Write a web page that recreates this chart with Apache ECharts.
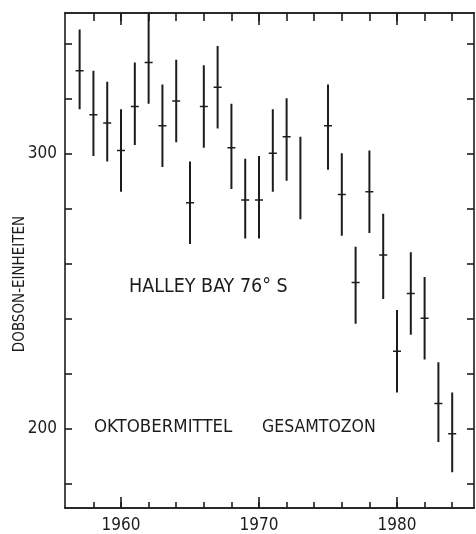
<!DOCTYPE html>
<html>
<head>
<meta charset="utf-8">
<script src="https://cdn.jsdelivr.net/npm/echarts@6/dist/echarts.min.js"></script>
<style>
html, body { margin: 0; background: #fff; }
#chart { width: 476px; height: 534px; }
</style>
</head>
<body>
<div id="chart"></div>
<script>
// Oktobermittel Gesamtozon, Halley Bay
const years = [1957, 1958, 1959, 1960, 1961, 1962, 1963, 1964, 1965, 1966, 1967, 1968, 1969, 1970,
               1971, 1972, 1973, 1975, 1976, 1977, 1978, 1979, 1980, 1981, 1982, 1983, 1984];
const means = [330, 314, 311, 301, 317, 333, 310, 319, 282, 317, 324, 302, 283, 283,
               300, 306, null, 310, 285, 253, 286, 263, 228, 249, 240, 209, 198];
const highs = [345, 330, 326, 316, 333, 351, 325, 334, 297, 332, 339, 318, 298, 299,
               316, 320, 306, 325, 300, 266, 301, 278, 243, 264, 255, 224, 213];
const lows  = [316, 299, 297, 286, 303, 318, 295, 304, 267, 302, 309, 287, 269, 269,
               286, 290, 276, 294, 270, 238, 271, 247, 213, 234, 225, 195, 184];

const minorYears = [1958, 1960, 1962, 1964, 1966, 1968, 1970, 1972, 1974, 1976, 1978, 1980, 1982, 1984];
const decadeYears = [1960, 1970, 1980];
const yTicks = [180, 200, 220, 240, 260, 280, 300, 320, 340];
const yLabels = [200, 300];

const ink = '#1c1c1c';
const xMin = 1955.94, xMax = 1985.58;
const yMin = 171, yMax = 351;
const labelFont = { color: ink, fontFamily: 'DejaVu Sans Condensed', fontSize: 17, formatter: v => String(v) };

const chart = echarts.init(document.getElementById('chart'));

const rows = years.map((y, i) => [y, lows[i], highs[i], means[i]]);

function xAx(pos, len, ticks, labels) {
    return {
        type: 'value', position: pos, min: xMin, max: xMax,
        axisLine: { show: true, lineStyle: { color: ink, width: 1.6 } },
        axisTick: { show: true, inside: true, length: len, customValues: ticks, lineStyle: { color: ink, width: 1.6 } },
        axisLabel: labels ? Object.assign({ customValues: labels, margin: 9 }, labelFont) : { show: false },
        splitLine: { show: false }
    };
}

function yAx(pos, labels) {
    return {
        type: 'value', position: pos, min: yMin, max: yMax,
        axisLine: { show: true, lineStyle: { color: ink, width: 1.6 } },
        axisTick: { show: true, inside: true, length: 7, customValues: yTicks, lineStyle: { color: ink, width: 1.6 } },
        axisLabel: labels ? Object.assign({ customValues: labels, margin: 8 }, labelFont) : { show: false },
        splitLine: { show: false }
    };
}

chart.setOption({
    backgroundColor: '#fff',
    animation: false,
    grid: { left: 65, right: 2, top: 13, bottom: 26 },
    xAxis: [
        xAx('bottom', 6, minorYears, decadeYears),
        xAx('bottom', 11, decadeYears, null),
        xAx('top', 8, minorYears, null),
        xAx('top', 12, decadeYears, null)
    ],
    yAxis: [
        yAx('left', yLabels),
        yAx('right', null)
    ],
    graphic: [
        {
            type: 'text', x: 20, y: 284, rotation: Math.PI / 2,
            style: { text: 'DOBSON-EINHEITEN', fill: ink, font: '15px "DejaVu Sans Condensed"', align: 'center', verticalAlign: 'middle' }
        },
        {
            type: 'text', x: 129, y: 287,
            style: { text: 'HALLEY BAY 76° S', fill: ink, font: '19.5px "DejaVu Sans Condensed"', align: 'left', verticalAlign: 'middle' }
        },
        {
            type: 'text', x: 94, y: 427,
            style: { text: 'OKTOBERMITTEL', fill: ink, font: '18.5px "DejaVu Sans Condensed"', align: 'left', verticalAlign: 'middle' }
        },
        {
            type: 'text', x: 262, y: 427,
            style: { text: 'GESAMTOZON', fill: ink, font: '17.5px "DejaVu Sans Condensed"', align: 'left', verticalAlign: 'middle' }
        }
    ],
    series: [{
        type: 'custom',
        xAxisIndex: 0,
        yAxisIndex: 0,
        clip: false,
        encode: { x: 0, y: [1, 2] },
        data: rows,
        renderItem: function (params, api) {
            const x = api.value(0);
            const top = api.coord([x, api.value(2)]);
            const bot = api.coord([x, api.value(1)]);
            const kids = [{
                type: 'line',
                shape: { x1: top[0], y1: top[1], x2: bot[0], y2: bot[1] },
                style: { stroke: ink, lineWidth: 2 }
            }];
            const m = api.value(3);
            if (m !== null && !isNaN(m)) {
                const c = api.coord([x, m]);
                kids.push({
                    type: 'line',
                    shape: { x1: c[0] - 4, y1: c[1], x2: c[0] + 4, y2: c[1] },
                    style: { stroke: ink, lineWidth: 1.5 }
                });
            }
            return { type: 'group', children: kids };
        }
    }]
});
</script>
</body>
</html>
